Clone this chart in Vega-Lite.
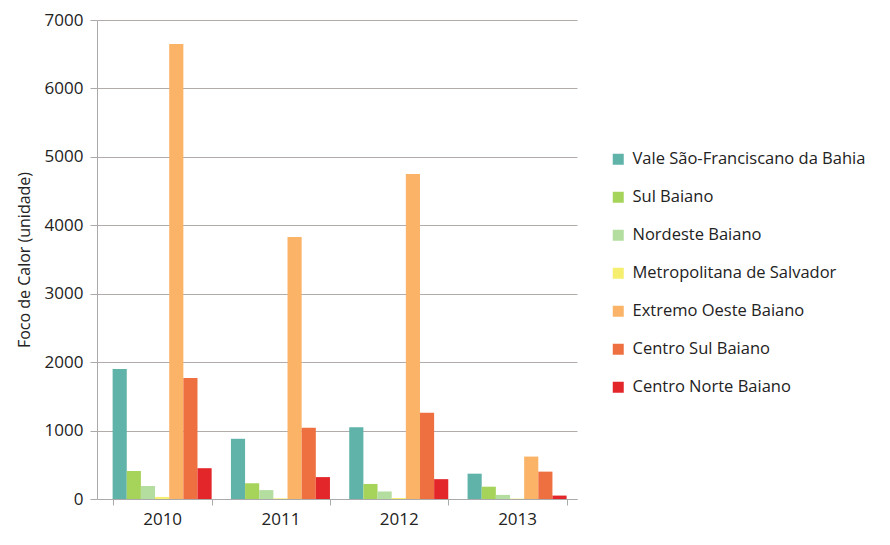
{
  "$schema": "https://vega.github.io/schema/vega-lite/v6.json",
  "width": 480,
  "height": 479,
  "autosize": "none",
  "padding": {"left": 97, "top": 20, "right": 313, "bottom": 46},
  "background": "white",
  "data": {"values": [
    {"ano": "2010", "regiao": "Vale São-Franciscano da Bahia", "focos": 1900},
    {"ano": "2010", "regiao": "Sul Baiano", "focos": 410},
    {"ano": "2010", "regiao": "Nordeste Baiano", "focos": 190},
    {"ano": "2010", "regiao": "Metropolitana de Salvador", "focos": 30},
    {"ano": "2010", "regiao": "Extremo Oeste Baiano", "focos": 6650},
    {"ano": "2010", "regiao": "Centro Sul Baiano", "focos": 1770},
    {"ano": "2010", "regiao": "Centro Norte Baiano", "focos": 450},
    {"ano": "2011", "regiao": "Vale São-Franciscano da Bahia", "focos": 880},
    {"ano": "2011", "regiao": "Sul Baiano", "focos": 230},
    {"ano": "2011", "regiao": "Nordeste Baiano", "focos": 130},
    {"ano": "2011", "regiao": "Metropolitana de Salvador", "focos": 10},
    {"ano": "2011", "regiao": "Extremo Oeste Baiano", "focos": 3830},
    {"ano": "2011", "regiao": "Centro Sul Baiano", "focos": 1040},
    {"ano": "2011", "regiao": "Centro Norte Baiano", "focos": 320},
    {"ano": "2012", "regiao": "Vale São-Franciscano da Bahia", "focos": 1050},
    {"ano": "2012", "regiao": "Sul Baiano", "focos": 220},
    {"ano": "2012", "regiao": "Nordeste Baiano", "focos": 110},
    {"ano": "2012", "regiao": "Metropolitana de Salvador", "focos": 15},
    {"ano": "2012", "regiao": "Extremo Oeste Baiano", "focos": 4750},
    {"ano": "2012", "regiao": "Centro Sul Baiano", "focos": 1260},
    {"ano": "2012", "regiao": "Centro Norte Baiano", "focos": 290},
    {"ano": "2013", "regiao": "Vale São-Franciscano da Bahia", "focos": 370},
    {"ano": "2013", "regiao": "Sul Baiano", "focos": 180},
    {"ano": "2013", "regiao": "Nordeste Baiano", "focos": 60},
    {"ano": "2013", "regiao": "Metropolitana de Salvador", "focos": 5},
    {"ano": "2013", "regiao": "Extremo Oeste Baiano", "focos": 620},
    {"ano": "2013", "regiao": "Centro Sul Baiano", "focos": 400},
    {"ano": "2013", "regiao": "Centro Norte Baiano", "focos": 50}
  ]},
  "config": {
    "font": "Open Sans",
    "view": {"stroke": null},
    "axis": {"labelFont": "Open Sans", "titleFont": "Open Sans", "labelColor": "#222", "titleColor": "#222"}
  },
  "mark": {"type": "bar"},
  "encoding": {
    "x": {
      "field": "ano", "type": "nominal",
      "scale": {"paddingInner": 0.163, "paddingOuter": 0.11, "align": 0.6},
      "axis": {"title": null, "labelAngle": 0, "labelFontSize": 17, "labelPadding": 6, "domainColor": "#aaa", "tickColor": "#aaa", "tickBand": "extent", "tickSize": 6}
    },
    "xOffset": {"field": "regiao", "type": "nominal", "sort": null},
    "y": {
      "field": "focos", "type": "quantitative",
      "scale": {"domain": [0, 7000]},
      "axis": {"title": "Foco de Calor (unidade)", "titleFontSize": 16, "titleFontWeight": "normal", "titlePadding": 12, "labelFontSize": 17, "labelPadding": 7, "format": "d", "tickCount": 7, "gridColor": "#b3aaaa", "domainColor": "#aaa", "tickColor": "#aaa", "tickSize": 7}
    },
    "color": {
      "field": "regiao", "type": "nominal", "sort": null,
      "scale": {
        "domain": ["Vale São-Franciscano da Bahia", "Sul Baiano", "Nordeste Baiano", "Metropolitana de Salvador", "Extremo Oeste Baiano", "Centro Sul Baiano", "Centro Norte Baiano"],
        "range": ["#5fb3a8", "#a6d45a", "#b3dea0", "#f5ee6e", "#fbb467", "#ee7040", "#e3262a"]
      },
      "legend": {
        "title": null, "orient": "none", "legendX": 513, "legendY": 131,
        "labelFontSize": 16.5, "labelColor": "#222", "labelLimit": 0, "symbolType": "square", "symbolSize": 121,
        "rowPadding": 21, "labelOffset": 6, "symbolStrokeWidth": 0
      }
    }
  }
}
